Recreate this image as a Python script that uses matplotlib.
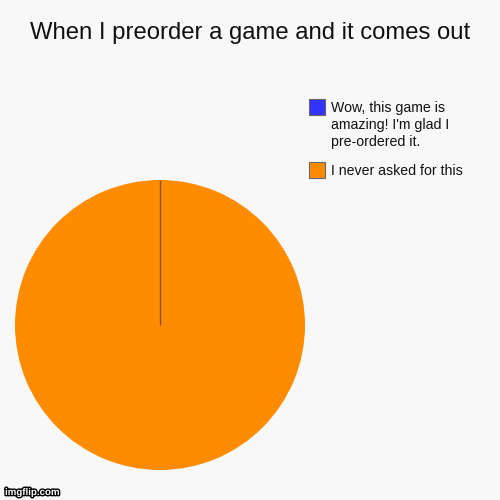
import matplotlib
matplotlib.use("Agg")
import numpy as np
import matplotlib.pyplot as plt
import matplotlib.patches as mpatches
import matplotlib.patheffects as pe

title = "When I preorder a game and it comes out"
labels = ["Wow, this game is\namazing! I'm glad I\npre-ordered it.", "I never asked for this"]
values = [0, 100]
colors = ["#3333ff", "#ff8c00"]

plt.rcParams['font.family'] = ['Liberation Sans', 'DejaVu Sans']
fig = plt.figure(figsize=(5, 5), dpi=100, facecolor="#f8f8f8")
fig.text(0.5, 1 - 33/500, title, ha="center", va="center", fontsize=17.2, color="#111111")

ax = fig.add_axes([15/500, 30/500, 290/500, 290/500])
ax.set_facecolor("#f8f8f8")
wedges, _ = ax.pie(values, colors=colors, startangle=90, counterclock=False,
                   wedgeprops=dict(linewidth=0))
# zero-size slice shows as a radial line
w = wedges[0]
th = np.deg2rad(w.theta1)
cx, cy = w.center
ax.plot([cx, cx + w.r * np.cos(th)], [cy, cy + w.r * np.sin(th)],
        color="#8a5030", linewidth=1.0, solid_capstyle="butt")
ax.set_aspect("equal")
ax.set_xlim(-1, 1)
ax.set_ylim(-1, 1)
ax.axis("off")

# legend
items_y = [99, 162]
for lab, col, y in zip(labels, colors, items_y):
    r = mpatches.Rectangle((309/500, 1 - (y+16)/500), 16/500, 16/500,
                           transform=fig.transFigure, facecolor=col,
                           edgecolor="#666666", linewidth=0.8)
    fig.add_artist(r)
    fig.text(331/500, 1 - (y+2)/500, lab, ha="left", va="top", fontsize=10.2,
             color="#111111", linespacing=1.27)

t = fig.text(5/500, 1 - 492/500, "imgflip.com", ha="left", va="center", fontsize=7,
             fontweight="bold", color="white")
t.set_path_effects([pe.withStroke(linewidth=2, foreground="black")])

fig.savefig("out.png", dpi=100, facecolor=fig.get_facecolor())
